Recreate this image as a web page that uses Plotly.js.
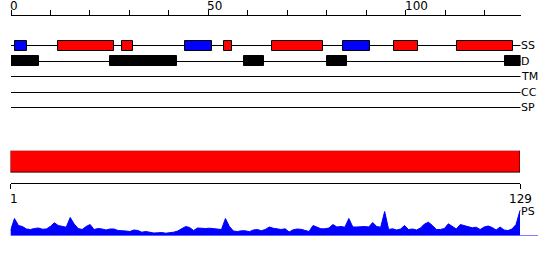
<!DOCTYPE html>
<html><head><meta charset="utf-8">
<script src="https://cdn.plot.ly/plotly-3.0.1.min.js"></script>
<style>html,body{margin:0;padding:0;background:#fff}#chart{width:550px;height:260px}</style>
</head><body><div id="chart"></div>
<script>
// ---- data ----
const seqLength = 129;
const topTickVals = [0,10,20,30,40,50,60,70,80,90,100,110,120];
const topLabelVals = [0,50,100];
const topLabelText = ['0','50','100'];
const trackNames = ['SS','D','TM','CC','SP'];
const ssStart = [1,12,28,44,54,66,84,97,113];
const ssEnd   = [4,26,31,51,56,79,91,103,127];
const ssType  = ['E','H','H','E','H','H','E','H','H'];
const disStart = [0,25,59,80,125];
const disEnd   = [7,42,64,85,129];
const domainStart = [1];
const domainEnd = [129];
const bottomTickVals = [1,129];
const bottomTickText = ['1','129'];
const psLabel = 'PS';
const psValues = [
 5,17,10,9,6.5,6,7,7.5,6.3,6.5,
 9,12.7,10,9.5,8.3,18,11.5,7,6,9,
 11,6,7,6.5,5.5,6.5,6.5,5,5,4.5,
 4,5.5,5,3.3,4,3,2.5,2.7,3,2.3,
 2.7,3.3,4.5,7,9,8,5,7.5,7,7,
 7.3,6.7,6.7,6,17,9,4.5,4,4.7,4.7,
 3.8,5.5,6,4.8,6,8.5,7.3,7,6,6.7,
 3.5,5.7,6.5,6.2,5.3,4,10,8,6.7,6.7,
 7.5,11,8.5,9,8.3,17,8.5,8.5,9,9,
 8.5,13,9,8.3,24,6,6.7,5.5,6.5,10,
 6,6.5,5.5,7.5,11.5,13.3,10,6,6,7,
 11.7,9.5,6.5,11,10,8.7,7.7,8.3,6,8.5,
 9.5,8,5.5,8.5,5.5,5,6.5,11,25
];

// ---- styles / layout helpers ----
const H = 260, W = 550;
const py = p => 1 - p / H;
const px = p => p / W;
const rowPx0 = 45.6, rowStep = 15.5;
const yTop = (30 - rowPx0) / rowStep, yBot = (122 - rowPx0) / rowStep;
const boxW = 10 / rowStep, lineW = 1 / rowStep;
const typeColor = {H:'#ff0000', E:'#0000ff'};
const psAxisEnd = 1 + (538 - 10.5) / ((520 - 10.5) / 128);
const resIdx = psValues.map((v,i)=>i+1);

const traces = [];
// track base lines (thin bars so boxes sit on top)
traces.push({
  type:'bar', orientation:'h', xaxis:'x', yaxis:'y',
  y: trackNames.map((n,i)=>i), base: trackNames.map(()=>0),
  x: trackNames.map(()=>seqLength), width: lineW,
  marker:{color:'#000', line:{color:'#000', width:0.02}},
  cliponaxis:false, hoverinfo:'skip'
});
// secondary structure boxes
traces.push({
  type:'bar', orientation:'h', xaxis:'x', yaxis:'y',
  y: ssStart.map(()=>0), base: ssStart,
  x: ssStart.map((s,i)=>ssEnd[i]-s), width: boxW,
  marker:{color: ssType.map(t=>typeColor[t]), line:{color:'#000', width:1}},
  cliponaxis:false, hoverinfo:'skip'
});
// disorder boxes
traces.push({
  type:'bar', orientation:'h', xaxis:'x', yaxis:'y',
  y: disStart.map(()=>1), base: disStart,
  x: disStart.map((s,i)=>disEnd[i]-s), width: boxW,
  marker:{color:'#000', line:{color:'#000', width:1}},
  cliponaxis:false, hoverinfo:'skip'
});
// domain bar
traces.push({
  type:'bar', orientation:'h', xaxis:'x2', yaxis:'y2',
  y: domainStart.map(()=>0), base: domainStart,
  x: domainStart.map((s,i)=>domainEnd[i]-s), width: 1,
  marker:{color:'#ff0000', line:{color:'#000', width:1}},
  cliponaxis:false, hoverinfo:'skip'
});
// PS baseline
traces.push({
  type:'scatter', mode:'lines', xaxis:'x3', yaxis:'y3',
  x:[1, psAxisEnd], y:[0,0], line:{color:'#0000ff', width:1}, hoverinfo:'skip'
});
// PS profile
traces.push({
  type:'scatter', mode:'lines', xaxis:'x3', yaxis:'y3',
  x: resIdx, y: psValues, fill:'tozeroy', fillcolor:'#0000ff',
  line:{color:'#0000ff', width:1}, hoverinfo:'skip'
});

const ann = [];
topLabelVals.forEach((v,i)=>ann.push({xref:'x', yref:'paper', x:v, y:py(6), text:topLabelText[i],
  xanchor:'left', yanchor:'middle', showarrow:false, borderpad:0, borderwidth:0, xshift:-1,
  font:{family:'DejaVu Sans', size:12, color:'#000'}}));
trackNames.forEach((n,i)=>ann.push({xref:'x', yref:'y', x:seqLength, y:i, text:n,
  xanchor:'left', yanchor:'middle', showarrow:false, borderpad:0, borderwidth:0,
  font:{family:'DejaVu Sans', size:11, color:'#000'}}));
bottomTickVals.forEach((v,i)=>ann.push({xref:'x2', yref:'paper', x:v, y:py(198.7), text:bottomTickText[i],
  xanchor: i===0 ? 'left' : 'center', xshift: i===0 ? -1 : 0, yanchor:'middle', showarrow:false, borderpad:0, borderwidth:0,
  font:{family:'DejaVu Sans', size:12, color:'#000'}}));
ann.push({xref:'x3', yref:'paper', x:resIdx[resIdx.length-1], y:py(211), text:psLabel,
  xanchor:'left', yanchor:'middle', xshift:1, showarrow:false, borderpad:0, borderwidth:0,
  font:{family:'DejaVu Sans', size:11, color:'#000'}});

const axBase = {showgrid:false, zeroline:false, fixedrange:true};
const layout = {
  width:W, height:H, margin:{l:0,r:0,t:0,b:0,pad:0},
  paper_bgcolor:'#fff', plot_bgcolor:'rgba(0,0,0,0)',
  showlegend:false, barmode:'overlay', bargap:0, bargroupgap:0, hovermode:false,
  font:{family:'DejaVu Sans', size:12, color:'#000'},
  xaxis:Object.assign({}, axBase, {domain:[px(11), px(520.5)], range:[0, seqLength], side:'top',
    anchor:'free', position:py(15), showline:true, linecolor:'#000', linewidth:1,
    ticks:'outside', ticklen:5, tickwidth:1, tickcolor:'#000', tickmode:'array', tickvals:topTickVals,
    showticklabels:false}),
  yaxis:Object.assign({}, axBase, {domain:[py(122), py(30)], range:[yBot, yTop], visible:false, anchor:'x'}),
  xaxis2:Object.assign({}, axBase, {domain:[px(10.5), px(520)], range:[1, seqLength], side:'bottom',
    anchor:'free', position:py(183), showline:true, linecolor:'#000', linewidth:1,
    ticks:'outside', ticklen:5, tickwidth:1, tickcolor:'#000', tickmode:'array', tickvals:bottomTickVals,
    showticklabels:false}),
  yaxis2:Object.assign({}, axBase, {domain:[py(172.7), py(150.7)], range:[-0.5,0.5], visible:false, anchor:'x2'}),
  xaxis3:Object.assign({}, axBase, {domain:[px(10.5), px(538)], range:[1, psAxisEnd], visible:false, anchor:'y3'}),
  yaxis3:Object.assign({}, axBase, {domain:[py(235.5), py(205.5)], range:[0,30], visible:false, anchor:'x3'}),
  annotations: ann
};
Plotly.newPlot('chart', traces, layout, {displayModeBar:false, responsive:false});
</script>
</body></html>
